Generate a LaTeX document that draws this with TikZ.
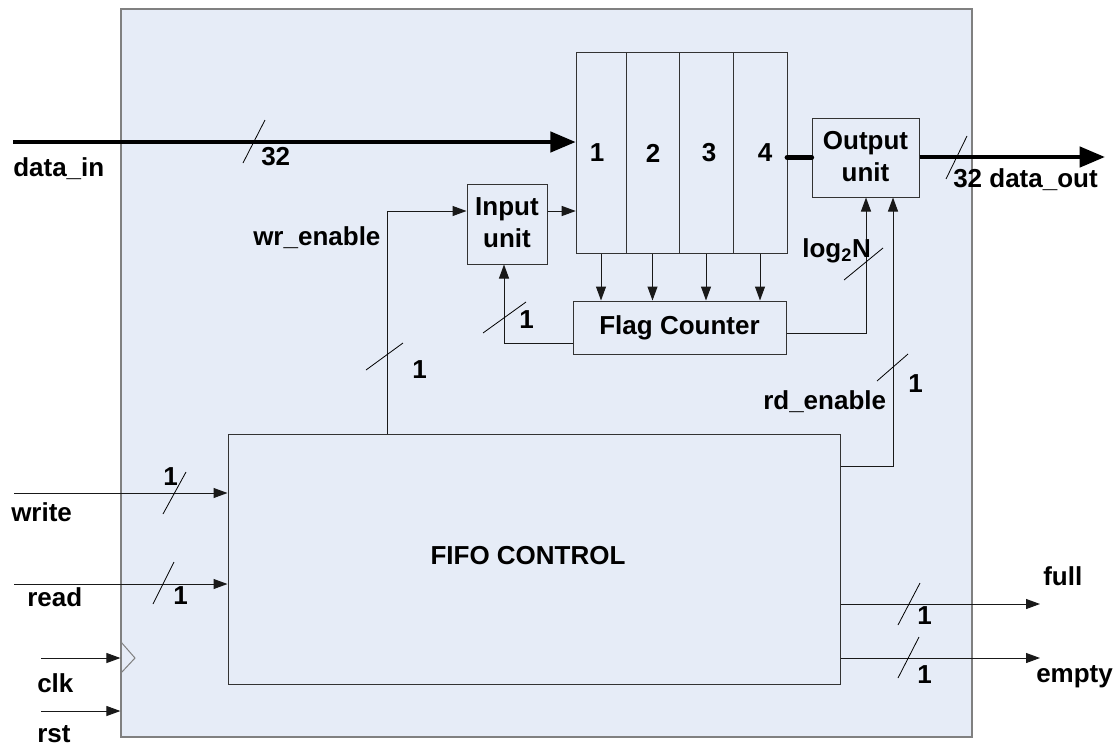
\documentclass[tikz,border=0pt]{standalone}
\usepackage{fontspec}
\setmainfont{Liberation Sans}
\usetikzlibrary{arrows.meta,fit}
\definecolor{bg}{HTML}{E6ECF7}
\definecolor{edge}{HTML}{808080}
\begin{document}
\begin{tikzpicture}[x=0.75pt,y=-0.75pt,
  lbl/.style={font=\fontsize{19.5}{24}\selectfont\bfseries, inner sep=0pt, anchor=base west},
  ctr/.style={font=\fontsize{19.5}{24}\selectfont\bfseries, inner sep=0pt, anchor=center, align=center},
  box/.style={draw=black!80, line width=0.75pt, inner sep=0pt},
  wire/.style={line width=0.75pt, draw=black!90},
  arr/.style={wire, -{Triangle[length=10.5pt,width=7.5pt]}},
  bus/.style={line width=3.3pt},
  busarr/.style={bus, -{Triangle[length=19pt,width=15pt]}},
  slash/.style={line width=0.6pt}]
\useasboundingbox (0,0) rectangle (1116,747);
% outer block
\node[fit={(121,9)(972,737)}, inner sep=0pt, draw=edge, fill=bg, line width=0.9pt] (outer) {};
% clock triangle
\draw[draw=edge, line width=0.75pt] (121,642) -- (135,658) -- (121,673);
% memory cells
\node[box, fit={(576,52)(626,253)}] (c1) {};
\node[box, fit={(626,52)(679,253)}] (c2) {};
\node[box, fit={(679,52)(733,253)}] (c3) {};
\node[box, fit={(733,52)(787,253)}] (c4) {};
\node[fit={(576,52)(787,253)}, inner sep=0pt] (mem) {};
\node[ctr] (t1) at (597,153) {1};
\node[ctr] (t2) at (653,153) {2};
\node[ctr] (t3) at (709,153) {3};
\node[ctr] (t4) at (765,153) {4};
% units
\node[box, fit={(467,184)(547,264)}] (inu) {};
\node[box, fit={(812,118)(919,197)}] (outu) {};
\node[box, fit={(573,301)(786,354)}] (flag) {};
\node[box, fit={(228,434)(840,684)}] (fifo) {};
\node[ctr] (inutxt) at ([yshift=1pt]inu.center) {Input\\unit};
\node[ctr] (oututxt) at ([yshift=1pt]outu.center) {Output\\unit};
\node[ctr] (flagtxt) at (flag.center) {Flag Counter};
\node[ctr] (fifotxt) at (528,556) {FIFO CONTROL};
% coordinates
\coordinate (din) at (13,142);
\coordinate (dout) at (1105,157);
\coordinate (wrtop) at (387,211);
\coordinate (fb) at (504,343);
\coordinate (lg) at (866,333);
\coordinate (rd) at (893,466);
\coordinate (wrs) at (14,493);
\coordinate (rds) at (14,584);
\coordinate (clks) at (41,658);
\coordinate (rsts) at (41,711);
\coordinate (fl) at (1040,604);
\coordinate (em) at (1040,658);
% buses
\draw[busarr] (din) -- (din -| mem.west);
\draw[bus, line width=4pt, line cap=round] (mem.east |- outu.west) -- (outu.west);
\draw[busarr] (outu.east |- dout) -- (dout);
% control wires
\draw[arr] (fifo.north -| wrtop) -- (wrtop) -- (wrtop -| inu.west);
\draw[arr] (inu.east |- wrtop) -- (wrtop -| mem.west);
\foreach \c in {c1,c2,c3,c4} \draw[arr] (\c.south) -- (\c.south |- flag.north);
\draw[arr] (fb -| flag.west) -- (fb) -- (fb |- inu.south);
\draw[arr] (lg -| flag.east) -- (lg) -- (lg |- outu.south);
\draw[arr] (rd -| fifo.east) -- (rd) -- (rd |- outu.south);
\draw[arr] (wrs) -- (wrs -| fifo.west);
\draw[arr] (rds) -- (rds -| fifo.west);
\draw[arr] (clks) -- (clks -| outer.west);
\draw[arr] (rsts) -- (rsts -| outer.west);
\draw[arr] (fl -| fifo.east) -- (fl);
\draw[arr] (em -| fifo.east) -- (em);
% bus-width slashes
\draw[slash] (243,163) -- (265,120);
\draw[slash] (366,370) -- (403,343);
\draw[slash] (483,333) -- (526,302);
\draw[slash] (844,280) -- (883,248);
\draw[slash] (946,179) -- (967,136);
\draw[slash] (877,381) -- (908,354);
\draw[slash] (163,514) -- (186,472);
\draw[slash] (153,604) -- (174,562);
\draw[slash] (898,625) -- (920,583);
\draw[slash] (898,678) -- (919,637);
% labels
\node[lbl] (ldin) at (13,176) {data\_in};
\node[lbl] (l32a) at (261,165) {32};
\node[lbl] (lwr) at (253,245) {wr\_enable};
\node[lbl] (l1wr) at (412,378) {1};
\node[lbl] (l1fb) at (519,328) {1};
\node[lbl] (llog) at (802,257) {log\textsubscript{2}N};
\node[lbl] (l1rd) at (908,392) {1};
\node[lbl] (lrd) at (763,409) {rd\_enable};
\node[lbl] (ldout) at (953,187) {32 data\_out};
\node[lbl] (lwrite) at (11,521) {write};
\node[lbl] (l1w) at (163,485) {1};
\node[lbl] (lread) at (27,606) {read};
\node[lbl] (l1r) at (173,604) {1};
\node[lbl] (lclk) at (37,692) {clk};
\node[lbl] (lrst) at (37,742) {rst};
\node[lbl] (lfull) at (1043,585) {full};
\node[lbl] (l1f) at (917,624) {1};
\node[lbl] (lempty) at (1036,682) {empty};
\node[lbl] (l1e) at (917,683) {1};
\end{tikzpicture}
\end{document}
